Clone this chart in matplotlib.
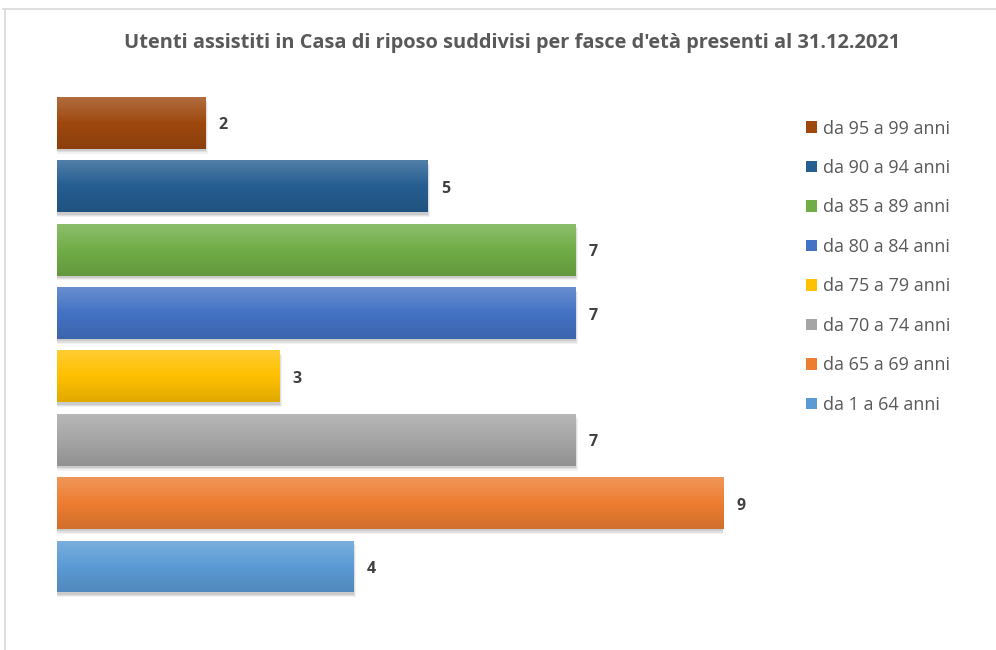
import numpy as np
import matplotlib
matplotlib.use("Agg")
import matplotlib.pyplot as plt
from matplotlib.colors import to_rgb, LinearSegmentedColormap
from matplotlib.patches import Patch
from matplotlib.lines import Line2D

categories = ['da 1 a 64 anni', 'da 65 a 69 anni', 'da 70 a 74 anni', 'da 75 a 79 anni',
              'da 80 a 84 anni', 'da 85 a 89 anni', 'da 90 a 94 anni', 'da 95 a 99 anni']
values = [4, 9, 7, 3, 7, 7, 5, 2]
colors = ['#5B9BD5', '#ED7D31', '#A5A5A5', '#FFC000',
          '#4472C4', '#70AD47', '#255E91', '#9E480E']
title = "Utenti assistiti in Casa di riposo suddivisi per fasce d'età presenti al 31.12.2021"

plt.rcParams['font.family'] = ['Open Sans', 'DejaVu Sans']

W, H = 996, 650
fig = plt.figure(figsize=(W / 100, H / 100), dpi=100)
fig.patch.set_facecolor('white')

# border lines
fig.add_artist(Line2D([3 / W, 1], [1 - 9 / H, 1 - 9 / H], color='#D9D9D9', lw=1.2))
fig.add_artist(Line2D([5 / W, 5 / W], [0, 1 - 9 / H], color='#D9D9D9', lw=1.2))

ax = fig.add_axes([57 / W, 51.8 / H, 666 / W, 506.9 / H])
ax.axis('off')

y = np.arange(len(categories))
bh = 0.82
vals = np.array(values, dtype=float)

# soft shadow
for a, dx, dy in [(0.05, 0.045, -0.075), (0.07, 0.03, -0.055), (0.09, 0.018, -0.035)]:
    ax.barh(y + dy, vals + dx, height=bh, left=0, color='black', alpha=a,
            linewidth=0, zorder=1)

bars = ax.barh(y, vals, height=bh, color=colors, linewidth=0, zorder=2)
for b, c in zip(bars, colors):
    rgb = np.array(to_rgb(c))
    top = rgb + (1 - rgb) * 0.20
    bot = rgb * 0.88
    cmap = LinearSegmentedColormap.from_list('g', [bot, rgb, top])
    x0, y0 = b.get_x(), b.get_y()
    w, h = b.get_width(), b.get_height()
    grad = np.linspace(0, 1, 128).reshape(-1, 1)
    im = ax.imshow(grad, cmap=cmap, extent=[x0, x0 + w, y0, y0 + h], origin='lower',
                   aspect='auto', zorder=3, interpolation='bilinear')
    im.set_clip_path(b)

for yi, v in zip(y, values):
    ax.annotate(str(v), (v, yi), xytext=(10, -1.8), textcoords='offset points',
                ha='left', va='center', fontsize=11.5, fontweight='bold', color='#404040')

ax.set_xlim(0, 9)
ax.set_ylim(-0.5, 7.5)

fig.text(512 / W, 1 - 43 / H, title, ha='center', va='center', fontsize=14.4,
         fontweight='bold', color='#595959')

handles = [Patch(facecolor=c, edgecolor='none') for c in colors][::-1]
labels = categories[::-1]
leg = fig.legend(handles, labels, loc='upper left', bbox_to_anchor=(806 / W, 1 - 119.5 / H),
                 frameon=False, borderpad=0, borderaxespad=0, handlelength=0.62,
                 handleheight=0.62, handletextpad=0.3, labelspacing=1.19,
                 fontsize=13, labelcolor='#595959')

fig.savefig('out.png', dpi=100)
